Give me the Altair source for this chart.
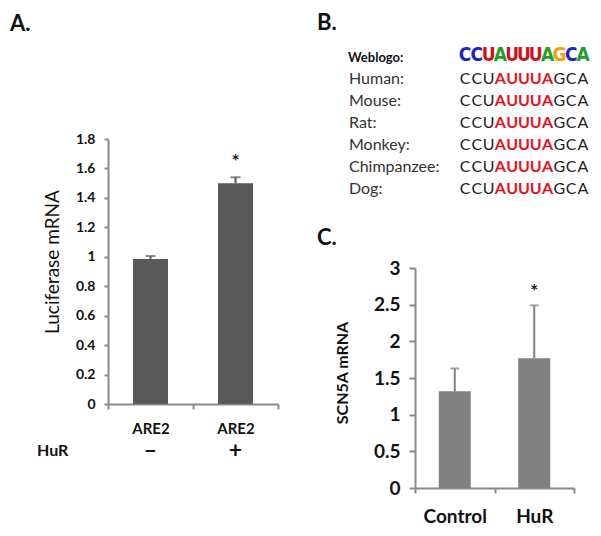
import altair as alt
import pandas as pd

# ---------------- data ----------------
# Panel A
a_groups = ["–", "+"]          # HuR absent / present (both ARE2)
a_values = [0.985, 1.50]
a_errors = [0.02, 0.04]
a_sig = ["", "*"]
a_ticks = [0, 0.2, 0.4, 0.6, 0.8, 1.0, 1.2, 1.4, 1.6, 1.8]

# Panel C
c_groups = ["Control", "HuR"]
c_values = [1.32, 1.77]
c_errors = [0.31, 0.72]
c_sig = ["", "*"]
c_ticks = [0, 0.5, 1, 1.5, 2, 2.5, 3]

# Panel B
species = ["Human", "Mouse", "Rat", "Monkey", "Chimpanzee", "Dog"]
sequences = ["CCUAUUUAGCA"] * 6
motif = (3, 8)  # AUUUA
logo_letters = list("CCUAUUUAGCA")
logo_colors = ["#1c22c8", "#1c22c8", "#d0101a", "#1f9e2a", "#d0101a", "#d0101a",
               "#d0101a", "#1f9e2a", "#f2a100", "#1c22c8", "#1f9e2a"]

FONT = "Lato"
AXC = "#8a8a8a"


def axis_common(**kw):
    base = dict(domainColor=AXC, domainWidth=2, tickColor=AXC, tickWidth=2,
                labelFont=FONT, labelFontWeight="bold", labelColor="#111",
                grid=False, title=None, labelOverlap=False)
    base.update(kw)
    return alt.Axis(**base)


# ---------------- panel A ----------------
dfA = pd.DataFrame({"group": a_groups, "value": a_values, "err": a_errors, "sig": a_sig})
dfA["upper"] = dfA["value"] + dfA["err"]

scAx = alt.Scale(domain=a_groups, range=[100, 270], paddingInner=0, paddingOuter=0)
scAy = alt.Scale(domain=[0, 1.8], range=[396, 131], nice=False, zero=True)
axAx = axis_common(orient="bottom", offset=-124, tickBand="extent", tickSize=5,
                   labelFontSize=15, labelPadding=12, labelAngle=0,
                   labelExpr="indexof(['–', '+'], datum.value) >= 0 ? 'ARE2' : ''")
axAy = axis_common(orient="left", offset=-100, values=a_ticks, format="~g",
                   tickSize=4, labelFontSize=14, labelPadding=9)

def xA():
    return alt.X("group:N", scale=scAx, sort=a_groups, axis=axAx)

def yA(field):
    return alt.Y(field, scale=scAy, axis=axAy)

baseA = alt.Chart(dfA)
barsA = baseA.mark_bar(width=35, color="#595959").encode(x=xA(), y=yA("value:Q"))
ruleA = baseA.mark_rule(color="#595959", strokeWidth=2).encode(
    x=xA(), y=yA("value:Q"), y2="upper:Q")
capA = baseA.mark_tick(color="#595959", size=10, thickness=2).encode(
    x=xA(), y=yA("upper:Q"))
starA = baseA.mark_text(font=FONT, fontSize=19, fontWeight="bold", color="#222",
                        dy=-15).encode(x=xA(), y=yA("upper:Q"), text="sig:N")
signA = baseA.mark_text(font=FONT, fontSize=23, fontWeight="bold", color="#111",
                        baseline="middle").encode(
    x=xA(), y=alt.value(443), text="group:N")
layerA = alt.layer(barsA, ruleA, capA, starA, signA)

# ---------------- panel C ----------------
dfC = pd.DataFrame({"group": c_groups, "value": c_values, "err": c_errors, "sig": c_sig})
dfC["upper"] = dfC["value"] + dfC["err"]

scCx = alt.Scale(domain=c_groups, range=[407, 566], paddingInner=0, paddingOuter=0)
scCy = alt.Scale(domain=[0, 3], range=[480, 260], nice=False, zero=True)
axCx = axis_common(orient="bottom", offset=-40, tickBand="extent", tickSize=5,
                   labelFontSize=19, labelPadding=14, labelAngle=0)
axCy = axis_common(orient="left", offset=-407, values=c_ticks, format="~g",
                   tickSize=6, labelFontSize=19, labelPadding=9)

def xC():
    return alt.X("group:N", scale=scCx, sort=c_groups, axis=axCx)

def yC(field):
    return alt.Y(field, scale=scCy, axis=axCy)

baseC = alt.Chart(dfC)
barsC = baseC.mark_bar(width=32, color="#808080").encode(x=xC(), y=yC("value:Q"))
ruleC = baseC.mark_rule(color="#808080", strokeWidth=2).encode(
    x=xC(), y=yC("value:Q"), y2="upper:Q")
capC = baseC.mark_tick(color="#808080", size=9, thickness=2).encode(
    x=xC(), y=yC("upper:Q"))
starC = baseC.mark_text(font=FONT, fontSize=19, fontWeight="bold", color="#222",
                        dy=-13).encode(x=xC(), y=yC("upper:Q"), text="sig:N")
layerC = alt.layer(barsC, ruleC, capC, starC)

# ---------------- panel B ----------------
rows = []
for sp, seq in zip(species, sequences):
    for i, ch in enumerate(seq):
        rows.append({"species": sp, "pos": i, "letter": ch,
                     "motif": motif[0] <= i < motif[1]})
dfSeq = pd.DataFrame(rows)
dfSp = pd.DataFrame({"species": species, "label": [s + ":" for s in species]})
dfLogo = pd.DataFrame({"pos": list(range(len(logo_letters))), "letter": logo_letters,
                       "color": logo_colors})

scBx = alt.Scale(domain=[0, 10], range=[457, 575], nice=False, zero=False)
scBy = alt.Scale(type="point", domain=species, range=[71, 181], padding=0)
xB = alt.X("pos:Q", scale=scBx, axis=None)
yB = alt.Y("species:N", scale=scBy, axis=None)

spNames = alt.Chart(dfSp).mark_text(font=FONT, fontSize=16, color="#333",
                                    align="left", baseline="middle").encode(
    x=alt.value(341), y=yB, text="label:N")
seqNorm = alt.Chart(dfSeq).transform_filter("!datum.motif").mark_text(
    font=FONT, fontSize=16, color="#222", baseline="middle").encode(
    x=xB, y=yB, text="letter:N")
seqMotif = alt.Chart(dfSeq).transform_filter("datum.motif").mark_text(
    font=FONT, fontSize=16, fontWeight="bold", color="#e3141e",
    baseline="middle").encode(x=xB, y=yB, text="letter:N")
logo = alt.Chart(dfLogo).mark_text(
    font="Liberation Sans Narrow, DejaVu Sans Condensed, Liberation Sans",
    fontSize=19, fontWeight="bold", baseline="alphabetic").encode(
    x=xB, y=alt.value(53), text="letter:N",
    color=alt.Color("color:N", scale=None))
layerB = alt.layer(spNames, seqNorm, seqMotif, logo)

# ---------------- static labels ----------------
def label(txt, x, y, size, weight="bold", align="left", angle=0, color="#111"):
    kw = dict(font=FONT, fontSize=size, fontWeight=weight, align=align,
              baseline="middle", color=color)
    if angle:
        kw["angle"] = angle
    return alt.Chart(pd.DataFrame({"t": [txt]})).mark_text(**kw).encode(
        text="t:N", x=alt.value(x), y=alt.value(y))

labels = [
    label("A.", 2, 16, 22),
    label("B.", 309, 15, 22),
    label("C.", 309, 230, 22),
    label("Luciferase mRNA", 45, 254, 19, weight="normal", align="center", angle=270),
    label("HuR", 29, 443, 16),
    label("Weblogo:", 340, 50, 13),
    label("SCN5A mRNA", 335, 365, 16, align="center", angle=270),
]

chart = alt.layer(layerA, layerC, layerB, *labels).resolve_scale(
    x="independent", y="independent", color="independent"
).properties(
    width=585, height=520, padding=0,
    autosize=alt.AutoSizeParams(type="none"),
).configure_view(stroke=None)

chart.save("out.html", embed_options={"renderer": "svg", "actions": False})
